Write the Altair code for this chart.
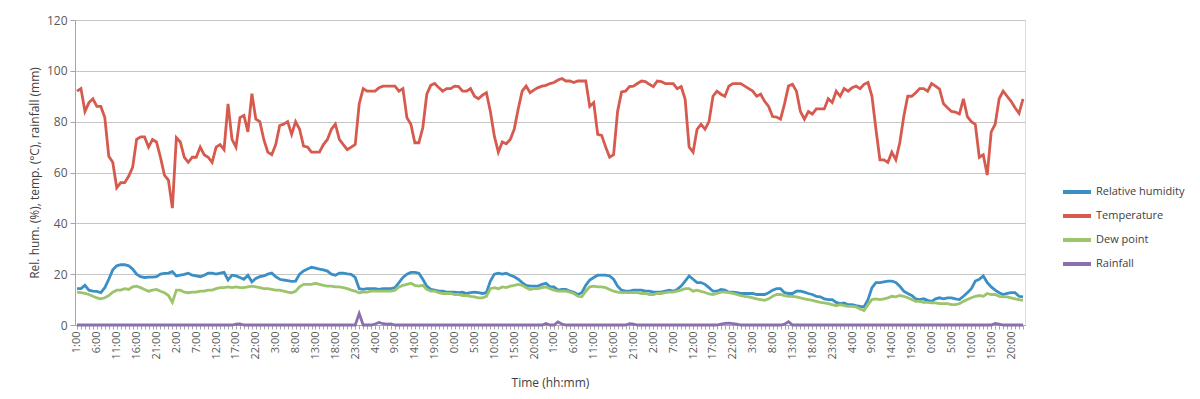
import altair as alt
import pandas as pd

tick_labels = ["1:00", "6:00", "11:00", "16:00", "21:00", "2:00", "7:00", "12:00", "17:00", "22:00",
               "3:00", "8:00", "13:00", "18:00", "23:00", "4:00", "9:00", "14:00", "19:00", "0:00",
               "5:00", "10:00", "15:00", "20:00", "1:00", "6:00", "11:00", "16:00", "21:00", "2:00",
               "7:00", "12:00", "17:00", "22:00", "3:00", "8:00", "13:00", "18:00", "23:00", "4:00",
               "9:00", "14:00", "19:00", "0:00", "5:00", "10:00", "15:00", "20:00"]

temperature = [
    92, 93, 84, 87.5, 89, 86, 86, 81.6, 66.4, 64,
    54, 56, 56, 58.5, 62, 73, 74, 74, 70, 73,
    72, 66, 59, 57, 46, 73.7, 72, 66, 64, 66,
    66, 70, 67, 66, 64, 70, 71, 69, 87, 73,
    70, 81.6, 82.5, 76, 91, 81, 80, 73, 68, 67,
    71, 78.5, 79, 80, 75, 80, 77, 70.4, 70, 68,
    68, 68, 71, 73, 77, 79, 73, 71, 69, 70,
    71, 87, 93, 92, 92, 92, 93.4, 94, 94, 94,
    94, 92, 93, 81.6, 79, 71.7, 71.7, 77.6, 90.8, 94.3,
    95, 93.4, 92, 93, 93, 94, 93.8, 92, 92, 93,
    90, 89, 90.4, 91.4, 84, 74.3, 68, 72, 71.3, 73,
    77, 85, 92, 94, 91.4, 92.5, 93.4, 94, 94.3, 95,
    95.4, 96.4, 97, 96, 96, 95.4, 96, 96, 96, 86,
    87.5, 75, 74.6, 70, 66, 67, 84, 91.7, 92, 93.8,
    94, 95, 96, 95.8, 94.7, 93.8, 96, 95.8, 95, 95,
    95, 93, 93.8, 88.8, 70, 68, 77, 79, 77, 80,
    90, 92, 90.8, 90, 94, 95, 95, 95, 94, 93,
    92, 90, 90.8, 88, 86, 82, 81.8, 81, 87, 94,
    94.7, 92, 84, 81, 84, 83, 85, 85, 85, 89,
    87.5, 92, 90, 93, 92, 93.4, 94, 93, 94.7, 95.4,
    90, 77, 65, 65, 64, 68, 65, 71.7, 82, 90,
    90, 91.4, 93, 93, 92, 95, 94, 92.8, 87, 85.5,
    84, 83.8, 83, 89, 82, 80, 79, 66, 67, 59,
    76, 79, 89, 92, 90, 88, 85.5, 83.3, 89,
]

humidity = [
    14.3, 14.3, 15.6, 13.7, 13.3, 13.2, 12.7, 14.7, 18, 21.7,
    23.3, 23.7, 23.7, 23.3, 22, 20, 19, 18.7, 18.8, 18.8,
    19, 20, 20.3, 20.4, 21, 19.3, 19.6, 19.9, 20.4, 19.6,
    19.3, 19, 19.6, 20.4, 20.4, 20, 20.4, 20.7, 17.7, 19.6,
    19.3, 18.7, 18, 19.6, 17, 18.3, 19, 19.3, 20, 20.4,
    19, 18, 17.7, 17.5, 17.2, 17.3, 20, 21.3, 22, 22.7,
    22.4, 22, 21.7, 21.2, 20, 19.6, 20.4, 20.4, 20.1, 19.9,
    18.7, 14.3, 14, 14.3, 14.3, 14.3, 14, 14.3, 14.3, 14.3,
    14.7, 16.7, 18.7, 20, 20.7, 20.7, 20.4, 18, 15.3, 14,
    13.7, 13.3, 13.3, 12.9, 12.9, 12.9, 12.7, 12.9, 12.4, 12.7,
    12.9, 12.7, 12.4, 12.7, 17.3, 20, 20.4, 20, 20.4, 19.6,
    19, 18, 16.7, 15.6, 15.3, 15.3, 15.3, 16, 16.4, 15,
    15, 13.7, 14, 14, 13.3, 12.9, 12, 12.7, 15.6, 17.7,
    18.7, 19.6, 19.6, 19.6, 19.3, 18, 15.3, 13.7, 13.3, 13.3,
    13.7, 13.7, 13.7, 13.3, 13.3, 12.9, 12.9, 12.9, 13.3, 13.7,
    13.3, 14, 15.3, 17.3, 19.3, 18, 16.7, 16.7, 16, 14.7,
    13.3, 13.3, 14, 13.7, 12.9, 12.9, 12.7, 12.4, 12.4, 12.4,
    12.4, 12, 12, 12, 12.7, 13.7, 14.3, 14.3, 12.7, 12.4,
    12.4, 13.3, 13.3, 12.9, 12.4, 12, 11.3, 11.1, 10.3, 10,
    10, 8.9, 8.4, 8.7, 8, 8, 7.6, 7.3, 7.1, 10,
    14.7, 16.7, 16.7, 17, 17.3, 17.3, 16.7, 15.3, 13.3, 12.4,
    11.6, 10.3, 10, 10.3, 9.7, 9.3, 10.3, 10.7, 10.3, 10.7,
    10.7, 10.3, 10, 11.3, 12.7, 14.3, 17.3, 18, 19.3, 16.7,
    15, 13.7, 12.7, 12, 12.4, 12.7, 12.7, 11.3, 11.1,
]

dew_point = [
    12.9, 12.7, 12.4, 12, 11.3, 10.7, 10.3, 10.7, 11.6, 12.9,
    13.7, 13.7, 14.3, 14, 15, 15.3, 14.7, 14, 13.3, 13.7,
    14, 13.3, 12.7, 11.6, 8.9, 13.7, 13.7, 12.9, 12.7, 12.9,
    12.9, 13.3, 13.3, 13.7, 13.7, 14.3, 14.7, 14.7, 15, 14.7,
    15, 14.7, 14.7, 15, 15.3, 15, 14.7, 14.3, 14.3, 14,
    13.7, 13.7, 13.3, 12.9, 12.7, 13.3, 15, 16, 16, 16,
    16.4, 16, 15.6, 15.3, 15.3, 15, 15, 14.7, 14.3, 13.7,
    13.3, 12.7, 12.9, 12.9, 13.3, 13.3, 13.3, 13.3, 13.3, 13.3,
    13.7, 15, 15.6, 16, 16.4, 15.6, 15.3, 15.6, 14, 13.3,
    13.3, 12.7, 12.4, 12.4, 12.4, 12, 12, 11.6, 11.6, 11.3,
    11.1, 10.7, 10.7, 11.3, 14.3, 14.7, 14.3, 15, 14.7, 15.3,
    15.6, 16, 15.6, 14.7, 14, 14.3, 14.3, 14.7, 15, 14.3,
    13.7, 13.3, 13.3, 13.3, 12.9, 12.4, 11.3, 11.1, 13.3, 15,
    15.3, 15, 15, 14.7, 14, 13.3, 12.9, 12.7, 12.7, 12.7,
    12.7, 12.7, 12.4, 12.4, 12, 12, 12.4, 12.4, 12.7, 12.9,
    12.9, 13.3, 13.7, 14.3, 14.3, 13.3, 13.7, 13.2, 12.8, 12.2,
    12, 12.4, 12.9, 12.9, 12.7, 12.4, 12, 11.6, 11.3, 11.1,
    10.7, 10.3, 10, 9.7, 10.3, 11.3, 12, 12, 11.6, 11.3,
    11.3, 11.1, 10.7, 10.3, 10, 9.7, 9.3, 8.9, 8.7, 8.4,
    8, 7.6, 8, 7.6, 7.3, 7.3, 7.1, 6.3, 5.7, 8,
    10, 10.3, 10, 10.3, 10.7, 11.3, 11.1, 11.6, 11.3, 10.7,
    10, 9.3, 9.3, 8.9, 8.9, 8.7, 8.7, 8.4, 8.4, 8.4,
    8, 8, 8.4, 9.3, 10, 10.7, 11.3, 11.6, 11.3, 12.4,
    12, 12, 11.3, 11.1, 11.1, 10.7, 10.3, 10, 9.7,
]

rainfall = [
    0, 0, 0, 0, 0, 0, 0, 0, 0, 0,
    0, 0, 0, 0, 0, 0, 0, 0, 0, 0,
    0, 0, 0, 0, 0, 0, 0, 0, 0, 0,
    0, 0, 0, 0, 0, 0, 0, 0, 0, 0,
    0.3, 0.4, 0, 0, 0, 0, 0, 0, 0, 0,
    0, 0, 0, 0, 0, 0, 0, 0, 0, 0,
    0, 0, 0, 0, 0, 0, 0, 0, 0, 0,
    0, 4.5, 0, 0, 0, 0.4, 1.0, 0.5, 0.3, 0.4,
    0, 0, 0, 0, 0, 0, 0, 0, 0, 0,
    0, 0, 0, 0, 0, 0, 0, 0, 0, 0,
    0, 0, 0, 0, 0, 0, 0, 0, 0, 0,
    0, 0, 0, 0, 0, 0, 0, 0, 0.6, 0,
    0, 1.2, 0.4, 0, 0, 0, 0, 0, 0, 0,
    0, 0, 0, 0, 0, 0, 0, 0, 0, 0.5,
    0.3, 0, 0, 0, 0, 0, 0, 0, 0, 0,
    0, 0, 0, 0, 0, 0, 0, 0, 0, 0,
    0, 0, 0.3, 0.6, 0.7, 0.5, 0.3, 0, 0, 0,
    0, 0, 0, 0, 0, 0, 0, 0, 0.3, 1.3,
    0, 0, 0, 0, 0, 0, 0, 0, 0, 0,
    0, 0, 0, 0, 0, 0, 0, 0, 0, 0,
    0, 0, 0, 0, 0, 0, 0, 0, 0, 0,
    0, 0, 0, 0, 0, 0, 0, 0, 0, 0,
    0, 0, 0, 0, 0, 0, 0, 0, 0, 0,
    0, 0.6, 0.3, 0, 0, 0, 0, 0, 0,
]

series_names = ["Relative humidity", "Temperature", "Dew point", "Rainfall"]
series_colors = ["#3a8fc6", "#d65a4e", "#9cc46c", "#8a70ae"]
series_values = [humidity, temperature, dew_point, rainfall]

rows = []
for name, vals in zip(series_names, series_values):
    for i, v in enumerate(vals):
        rows.append({"hour": i, "value": v, "series": name})
df = pd.DataFrame(rows)

n = len(temperature)
lbl_js = "[" + ",".join("'" + s + "'" for s in tick_labels) + "]"

font = "Open Sans"

x_axis = alt.Axis(
    values=list(range(n)),
    labelExpr="datum.value % 5 == 0 ? " + lbl_js + "[datum.value / 5] : ''",
    labelAngle=270,
    labelOverlap=False,
    grid=False,
    tickSize=4,
    tickColor="#a6a6a6",
    domainColor="#a6a6a6",
    labelColor="#595959",
    labelFontSize=11,
    labelFont=font,
    labelPadding=2,
    title="Time (hh:mm)",
    titleFont=font,
    titleFontSize=12,
    titleFontWeight="normal",
    titleColor="#404040",
    titlePadding=18,
)

y_axis = alt.Axis(
    values=[0, 20, 40, 60, 80, 100, 120],
    grid=True,
    gridColor="#c6c6c6",
    gridWidth=1,
    domainColor="#a6a6a6",
    tickColor="#a6a6a6",
    tickSize=5,
    labelColor="#595959",
    labelFontSize=12,
    labelFont=font,
    labelPadding=3,
    title="Rel. hum. (%), temp. (°C), rainfall (mm)",
    titleFont=font,
    titleFontSize=12,
    titleFontWeight="normal",
    titleColor="#404040",
    titlePadding=5,
)

chart = (
    alt.Chart(df)
    .mark_line(strokeWidth=2.8)
    .encode(
        x=alt.X("hour:Q", scale=alt.Scale(domain=[-0.5, n - 0.5], nice=False, zero=False), axis=x_axis),
        y=alt.Y("value:Q", scale=alt.Scale(domain=[0, 120], nice=False), axis=y_axis),
        color=alt.Color(
            "series:N",
            scale=alt.Scale(domain=series_names, range=series_colors),
            sort=series_names,
            legend=alt.Legend(
                title=None,
                orient="none",
                legendX=986,
                legendY=156,
                symbolType="stroke",
                symbolStrokeWidth=4,
                symbolSize=784,
                labelFont=font,
                labelFontSize=11,
                labelColor="#404040",
                labelOffset=3,
                rowPadding=-4,
            ),
        ),
    )
    .properties(width=950, height=305, padding={"left": 20, "top": 6, "right": 0, "bottom": 3})
    .configure_view(stroke=None)
    .configure(background="white")
)

chart.save("out.html", embed_options={"renderer": "svg", "actions": False})
